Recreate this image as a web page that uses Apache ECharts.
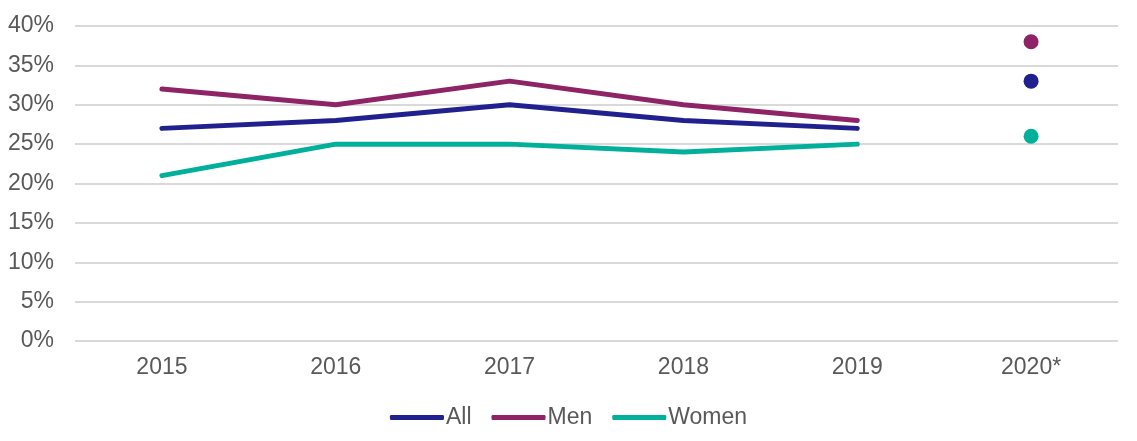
<!DOCTYPE html>
<html>
<head>
<meta charset="utf-8">
<script src="https://cdn.jsdelivr.net/npm/echarts@6/dist/echarts.min.js"></script>
<style>html,body{margin:0;padding:0;background:#fff}#c{width:1137px;height:441px}</style>
</head>
<body>
<div id="c"></div>
<script>
var categories = ['2015', '2016', '2017', '2018', '2019', '2020*'];
var allValues = [27, 28, 30, 28, 27, '-'];
var menValues = [32, 30, 33, 30, 28, '-'];
var womenValues = [21, 25, 25, 24, 25, '-'];
var all2020 = ['-', '-', '-', '-', '-', 33];
var men2020 = ['-', '-', '-', '-', '-', 38];
var women2020 = ['-', '-', '-', '-', '-', 26];

var cAll = '#21208F', cMen = '#8E2465', cWomen = '#00B09B';
var font = 'Liberation Sans, Arial, sans-serif';
var chart = echarts.init(document.getElementById('c'));
function lineS(name, data, color) {
  return {name: name, type: 'line', data: data, showSymbol: false, symbol: 'none',
    lineStyle: {width: 5, color: color, cap: 'round', join: 'round'}, itemStyle: {color: color}};
}
function dotS(name, data, color) {
  return {name: name + '2020', type: 'scatter', data: data, symbolSize: 15,
    itemStyle: {color: color, opacity: 1}};
}
chart.setOption({
  animation: false,
  grid: {left: 75, right: 19, top: 26, bottom: 100, containLabel: false},
  legend: {
    top: 401, left: 'center', itemGap: 20, itemWidth: 54, itemHeight: 5,
    data: [
      {name: 'All', icon: 'roundRect'},
      {name: 'Men', icon: 'roundRect'},
      {name: 'Women', icon: 'roundRect'}
    ],
    textStyle: {color: '#595959', fontSize: 23, fontFamily: font, padding: [0, 0, 0, -3]}
  },
  xAxis: {
    type: 'category', data: categories, boundaryGap: true,
    axisLine: {show: false}, axisTick: {show: false},
    axisLabel: {color: '#595959', fontSize: 23, fontFamily: font, margin: 15}
  },
  yAxis: {
    type: 'value', min: 0, max: 40, interval: 5,
    axisLine: {show: false}, axisTick: {show: false},
    axisLabel: {color: '#595959', fontSize: 23, fontFamily: font, formatter: '{value}%', margin: 21},
    splitLine: {lineStyle: {color: '#D9D9D9', width: 2}}
  },
  series: [
    lineS('All', allValues, cAll),
    lineS('Men', menValues, cMen),
    lineS('Women', womenValues, cWomen),
    dotS('All', all2020, cAll),
    dotS('Men', men2020, cMen),
    dotS('Women', women2020, cWomen)
  ]
});
</script>
</body>
</html>
